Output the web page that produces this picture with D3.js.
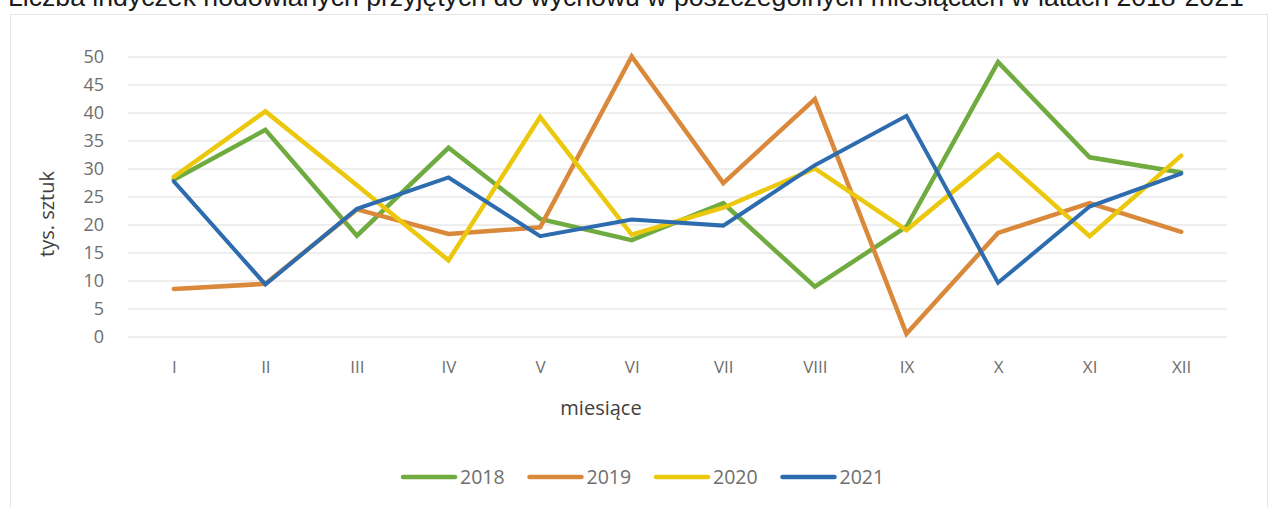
<!DOCTYPE html>
<html>
<head>
<meta charset="utf-8">
<script src="https://cdn.jsdelivr.net/npm/d3@7"></script>
<style>
  html, body { margin: 0; padding: 0; background: #fff; }
  svg { display: block; }
</style>
</head>
<body>
<svg id="chart" width="1273" height="508"></svg>
<script>
const titleText = "Liczba indyczek hodowlanych przyjętych do wychowu w poszczególnych miesiącach w latach 2018-2021";
const months = ["I","II","III","IV","V","VI","VII","VIII","IX","X","XI","XII"];
const yTicks = [0,5,10,15,20,25,30,35,40,45,50];
const seriesNames = ["2018","2019","2020","2021"];
const values2018 = [28.0, 36.9, 18.0, 33.7, 21.0, 17.2, 23.8, 8.9, 19.6, 49.0, 32.0, 29.3];
const values2019 = [8.5, 9.4, 22.7, 18.3, 19.5, 50.0, 27.4, 42.4, 0.5, 18.5, 23.8, 18.7];
const values2020 = [28.5, 40.2, 27.0, 13.6, 39.2, 18.2, 23.0, 30.0, 19.0, 32.5, 17.9, 32.3];
const values2021 = [27.7, 9.3, 22.8, 28.4, 17.9, 20.9, 19.8, 30.6, 39.4, 9.6, 23.2, 29.1];
const seriesValues = [values2018, values2019, values2020, values2021];
const colors = ["#6fab3e", "#da893b", "#ecc80c", "#2d6cae"];

const svg = d3.select("#chart");
svg.append("rect").attr("width",1273).attr("height",508).attr("fill","#fff");

// chart frame
svg.append("rect").attr("x",10.5).attr("y",14.5).attr("width",1257).attr("height",510)
  .attr("fill","none").attr("stroke","#e6e6e6").attr("stroke-width",1);

// title (cut off at the top, as in the reference)
const title = svg.append("text").text(titleText)
  .attr("x", 8).attr("y", 6)
  .attr("font-family","Liberation Sans, Arial, sans-serif")
  .attr("font-size", 25).attr("fill","#1a1a1a");
const tw = title.node().getComputedTextLength();
title.attr("font-size", 25 * 1236 / tw);

const x = d3.scalePoint().domain(months).range([128, 1227]).padding(0.5);
const y = d3.scaleLinear().domain([0, 50]).range([336.5, 56.5]);

// gridlines
svg.append("g").attr("transform","translate(128,0)")
  .call(d3.axisLeft(y).tickValues(yTicks).tickSize(-(1227-128)).tickFormat(""))
  .call(g => g.select(".domain").remove())
  .call(g => g.selectAll("line").attr("stroke","#dcdcdc").attr("stroke-width",1));

// y axis labels
svg.append("g").attr("transform","translate(128,0)")
  .call(d3.axisLeft(y).tickValues(yTicks).tickSize(0).tickPadding(24))
  .call(g => g.select(".domain").remove())
  .call(g => g.selectAll("text").attr("font-family","Open Sans, sans-serif")
     .attr("font-size",18).attr("fill","#6e6e6e"));

// x axis labels
svg.append("g").attr("transform","translate(0,336.5)")
  .call(d3.axisBottom(x).tickSize(0).tickPadding(24))
  .call(g => g.select(".domain").remove())
  .call(g => g.selectAll("text").attr("font-family","Open Sans, sans-serif")
     .attr("font-size",17).attr("fill","#6e6e6e"));

// axis titles
svg.append("text").text("tys. sztuk")
  .attr("transform","translate(54,214) rotate(-90)")
  .attr("text-anchor","middle")
  .attr("font-family","Open Sans, sans-serif").attr("font-size",20).attr("fill","#404040");
svg.append("text").text("miesiące")
  .attr("x",601).attr("y",408).attr("dy","0.35em")
  .attr("text-anchor","middle")
  .attr("font-family","Open Sans, sans-serif").attr("font-size",20).attr("fill","#404040");

// lines
const line = d3.line().x((d,i) => x(months[i])).y(d => y(d));
svg.append("g").selectAll("path").data(seriesValues).join("path")
  .attr("d", d => line(d))
  .attr("fill","none")
  .attr("stroke",(d,i) => colors[i])
  .attr("stroke-width",(d,i) => i === 3 ? 4 : 4.5)
  .attr("stroke-linejoin","miter")
  .attr("stroke-linecap","round");

// legend
const legend = svg.append("g");
seriesNames.forEach((name,i) => {
  const lx = 403 + i * 126.5;
  legend.append("line").attr("x1",lx).attr("x2",lx+52).attr("y1",477).attr("y2",477)
    .attr("stroke",colors[i]).attr("stroke-width",4.5).attr("stroke-linecap","round");
  legend.append("text").text(name).attr("x",lx+57).attr("y",477).attr("dy","0.35em")
    .attr("font-family","Open Sans, sans-serif").attr("font-size",19.5).attr("fill","#6e6e6e");
});
</script>
</body>
</html>
